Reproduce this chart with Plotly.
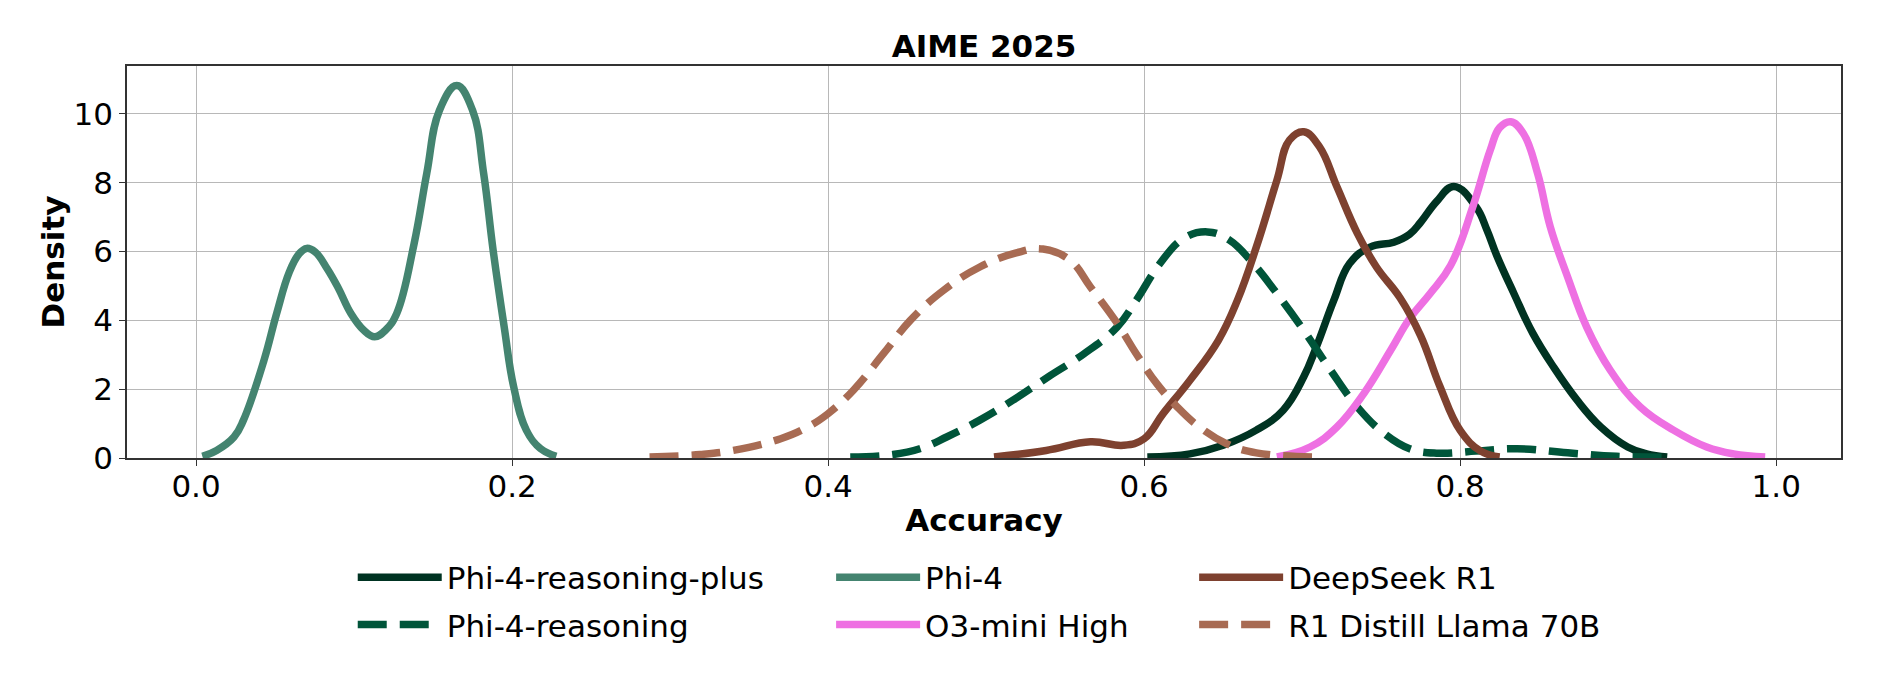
import plotly.graph_objects as go

# KDE curves (accuracy vs density)
PLUS_X = [0.602, 0.629, 0.650, 0.671, 0.688, 0.701, 0.709, 0.720, 0.730, 0.743, 0.758, 0.768,
          0.775, 0.785, 0.796, 0.810, 0.817, 0.823, 0.834, 0.846, 0.859, 0.874, 0.889, 0.906,
          0.918, 0.931]
PLUS_Y = [0.03, 0.12, 0.37, 0.81, 1.39, 2.36, 3.23, 4.58, 5.65, 6.13, 6.27, 6.5,
          6.85, 7.45, 7.89, 7.3, 6.62, 5.9, 4.78, 3.62, 2.65, 1.68, 0.9, 0.32,
          0.12, 0.03]

REAS_X = [0.414, 0.441, 0.458, 0.475, 0.496, 0.517, 0.540, 0.562, 0.583, 0.595, 0.610, 0.625,
          0.640, 0.654, 0.669, 0.684, 0.701, 0.718, 0.735, 0.752, 0.768, 0.785, 0.810, 0.836,
          0.868, 0.899, 0.931]
REAS_Y = [0.03, 0.1, 0.27, 0.61, 1.1, 1.68, 2.38, 3.03, 3.81, 4.58, 5.65, 6.38,
          6.57, 6.33, 5.65, 4.78, 3.71, 2.55, 1.48, 0.71, 0.27, 0.14, 0.2, 0.27,
          0.15, 0.05, 0.02]

PHI4_X = [0.004, 0.013, 0.024, 0.030, 0.043, 0.051, 0.059, 0.065, 0.070, 0.0755, 0.083, 0.090,
          0.098, 0.106, 0.113, 0.120, 0.127, 0.138, 0.146, 0.154, 0.165, 0.175, 0.182, 0.188,
          0.195, 0.201, 0.209, 0.218, 0.228]
PHI4_Y = [0.05, 0.22, 0.61, 1.1, 2.84, 4.2, 5.4, 5.92, 6.09, 5.98, 5.5, 4.94,
          4.2, 3.72, 3.52, 3.72, 4.2, 6.23, 8.27, 10.1, 10.82, 10.1, 8.27, 6.04,
          3.81, 2.07, 0.81, 0.27, 0.05]

O3_X = [0.684, 0.705, 0.722, 0.739, 0.756, 0.768, 0.781, 0.794, 0.808, 0.819, 0.825, 0.832,
        0.840, 0.849, 0.857, 0.868, 0.880, 0.895, 0.914, 0.935, 0.956, 0.973, 0.993]
O3_Y = [0.03, 0.32, 0.9, 1.87, 3.13, 4.05, 4.78, 5.6, 7.3, 8.94, 9.6, 9.77,
        9.43, 8.27, 6.72, 5.26, 3.81, 2.55, 1.48, 0.81, 0.32, 0.12, 0.03]

R1_X = [0.505, 0.538, 0.566, 0.587, 0.600, 0.612, 0.629, 0.647, 0.659, 0.671, 0.684, 0.692,
        0.701, 0.711, 0.722, 0.735, 0.747, 0.762, 0.775, 0.787, 0.800, 0.813, 0.825]
R1_Y = [0.03, 0.22, 0.47, 0.37, 0.56, 1.29, 2.26, 3.42, 4.58, 6.13, 8.07, 9.24,
        9.48, 9.04, 7.88, 6.52, 5.55, 4.65, 3.55, 2.1, 0.8, 0.2, 0.03]

DIST_X = [0.287, 0.319, 0.340, 0.370, 0.387, 0.400, 0.416, 0.435, 0.452, 0.473, 0.496, 0.519,
          0.536, 0.553, 0.566, 0.583, 0.595, 0.608, 0.621, 0.635, 0.652, 0.671, 0.709]
DIST_Y = [0.03, 0.1, 0.22, 0.56, 0.9, 1.29, 1.97, 3.03, 4.0, 4.87, 5.55, 5.96,
          6.07, 5.75, 4.97, 3.91, 3.03, 2.16, 1.48, 0.9, 0.42, 0.15, 0.03]

X_TICKS = [0.0, 0.2, 0.4, 0.6, 0.8, 1.0]
X_TICK_LABELS = ["0.0", "0.2", "0.4", "0.6", "0.8", "1.0"]
Y_TICKS = [0, 2, 4, 6, 8, 10]

FONT = "DejaVu Sans, Arial, sans-serif"
FS = 31
DASH = "29px,13px"

# (name, x, y, colour, dash, legend column)
series = [
    ("Phi-4-reasoning-plus", PLUS_X, PLUS_Y, "#003322", "solid", "legend"),
    ("Phi-4-reasoning", REAS_X, REAS_Y, "#00553a", DASH, "legend"),
    ("Phi-4", PHI4_X, PHI4_Y, "#448470", "solid", "legend2"),
    ("O3-mini High", O3_X, O3_Y, "#ee70e2", "solid", "legend2"),
    ("DeepSeek R1", R1_X, R1_Y, "#7e412f", "solid", "legend3"),
    ("R1 Distill Llama 70B", DIST_X, DIST_Y, "#a86b53", DASH, "legend3"),
]

fig = go.Figure()

for name, xs, ys, color, dash, leg in series:
    fig.add_trace(
        go.Scatter(
            x=xs,
            y=ys,
            mode="lines",
            name=name,
            legend=leg,
            legendgroup=name,
            line=dict(color=color, width=7.5, dash=dash, shape="spline", smoothing=1.2),
        )
    )

legend_style = dict(
    font=dict(family=FONT, size=FS, color="black"),
    orientation="v",
    xanchor="left",
    yanchor="top",
    y=-0.236,
    tracegroupgap=4,
    itemwidth=84,
    bgcolor="rgba(0,0,0,0)",
)

# page body adds an 8px offset, so margins are shifted to compensate
fig.update_layout(
    width=1885,
    height=684,
    paper_bgcolor="white",
    plot_bgcolor="white",
    margin=dict(l=119, r=52, t=58, b=234),
    font=dict(family=FONT, size=FS, color="black"),
    title=dict(
        text="<b>AIME 2025</b>",
        x=0.5,
        xref="paper",
        xanchor="center",
        y=1 - 38 / 684,
        yanchor="middle",
        font=dict(family=FONT, size=FS, color="black"),
    ),
    legend=dict(legend_style, x=0.1317),
    legend2=dict(legend_style, x=0.4108),
    legend3=dict(legend_style, x=0.6226),
    showlegend=True,
)

fig.update_xaxes(
    range=[-0.0437, 1.041],
    tickvals=X_TICKS,
    ticktext=X_TICK_LABELS,
    showgrid=True,
    gridcolor="#b8b8b8",
    gridwidth=1.3,
    zeroline=False,
    showline=True,
    linecolor="#333333",
    linewidth=1.5,
    mirror=True,
    ticks="outside",
    ticklen=6,
    tickcolor="#333333",
    ticklabelstandoff=-6,
    tickfont=dict(family=FONT, size=FS, color="black"),
    title=dict(text="<b>Accuracy</b>", standoff=6, font=dict(family=FONT, size=FS, color="black")),
)

fig.update_yaxes(
    range=[0, 11.39],
    tickvals=Y_TICKS,
    showgrid=True,
    gridcolor="#b8b8b8",
    gridwidth=1.3,
    zeroline=False,
    showline=True,
    linecolor="#333333",
    linewidth=1.5,
    mirror=True,
    ticks="outside",
    ticklen=6,
    tickcolor="#333333",
    tickfont=dict(family=FONT, size=FS, color="black"),
    title=dict(text="<b>Density</b>", standoff=0, font=dict(family=FONT, size=FS, color="black")),
)

fig.write_html("out.html")
